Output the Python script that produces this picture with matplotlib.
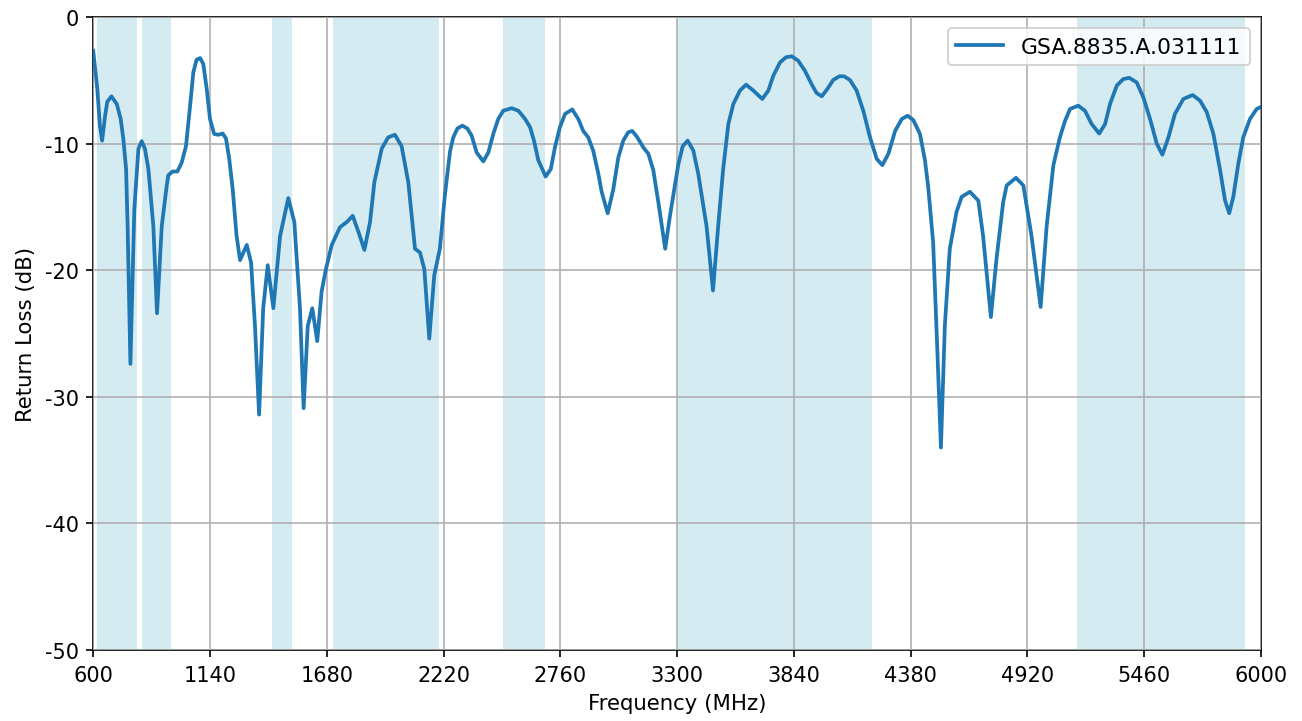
import matplotlib
matplotlib.use("Agg")
import matplotlib.pyplot as plt

plt.rcParams['axes.unicode_minus'] = False

freq = [600, 619, 631, 641, 655, 665, 684, 709, 727, 739, 752, 759, 772, 790, 809, 824, 839,
        855, 878, 895, 917, 940, 947, 967, 989, 1009, 1029, 1048, 1063, 1078, 1094, 1109,
        1125, 1140, 1159, 1178, 1199, 1214, 1229, 1245, 1263, 1279, 1310, 1330, 1348, 1367,
        1386, 1407, 1433, 1464, 1502, 1530, 1556, 1573, 1592, 1613, 1636, 1656, 1675, 1703,
        1741, 1772, 1800, 1829, 1854, 1880, 1900, 1934, 1964, 1995, 2026, 2057, 2088, 2111,
        2131, 2154, 2177, 2203, 2226, 2250, 2265, 2284, 2307, 2330, 2350, 2373, 2404, 2427,
        2450, 2473, 2496, 2535, 2566, 2597, 2620, 2638, 2658, 2692, 2716, 2735, 2758, 2782,
        2815, 2843, 2866, 2889, 2912, 2936, 2951, 2979, 3005, 3028, 3051, 3074, 3093, 3116,
        3144, 3167, 3190, 3213, 3245, 3267, 3306, 3326, 3349, 3375, 3398, 3436, 3466, 3490,
        3513, 3537, 3560, 3591, 3619, 3652, 3694, 3722, 3745, 3776, 3803, 3830, 3860, 3891,
        3922, 3945, 3969, 3995, 4022, 4050, 4072, 4099, 4130, 4161, 4192, 4223, 4249, 4277,
        4308, 4339, 4366, 4392, 4423, 4446, 4461, 4484, 4502, 4520, 4538, 4561, 4592, 4616,
        4654, 4693, 4715, 4751, 4777, 4808, 4824, 4867, 4901, 4939, 4981, 5009, 5040, 5070,
        5094, 5117, 5155, 5186, 5217, 5252, 5279, 5302, 5333, 5363, 5391, 5425, 5456, 5487,
        5518, 5544, 5572, 5602, 5641, 5684, 5718, 5749, 5780, 5811, 5834, 5853, 5872, 5895,
        5918, 5949, 5980, 6000]
return_loss = [-2.66, -5.7, -8.6, -9.76, -7.8, -6.7, -6.26, -6.87, -8.05, -9.6, -12.0, -16.5,
               -27.4, -15.2, -10.4, -9.8, -10.4, -12.0, -16.5, -23.4, -16.5, -13.3, -12.5,
               -12.2, -12.2, -11.5, -10.2, -7.0, -4.36, -3.37, -3.24, -3.7, -5.7, -8.05, -9.23,
               -9.3, -9.2, -9.6, -11.2, -13.6, -17.3, -19.2, -18.0, -19.4, -24.4, -31.4, -23.0,
               -19.6, -23.0, -17.3, -14.3, -16.2, -23.0, -30.9, -24.4, -23.0, -25.6, -21.7,
               -20.0, -18.0, -16.6, -16.2, -15.7, -17.1, -18.4, -16.2, -13.05, -10.4, -9.5,
               -9.3, -10.2, -13.05, -18.3, -18.6, -19.9, -25.4, -20.4, -18.3, -14.1, -10.6,
               -9.5, -8.8, -8.58, -8.8, -9.37, -10.7, -11.4, -10.7, -9.23, -8.05, -7.4, -7.2,
               -7.4, -8.05, -8.7, -9.76, -11.3, -12.6, -12.0, -10.3, -8.7, -7.65, -7.3, -8.05,
               -9.0, -9.5, -10.55, -12.4, -13.8, -15.5, -13.6, -11.1, -9.76, -9.1, -9.0, -9.5,
               -10.3, -10.8, -12.1, -14.6, -18.3, -15.7, -11.6, -10.2, -9.76, -10.55, -12.4,
               -16.5, -21.6, -16.5, -12.0, -8.45, -6.87, -5.8, -5.34, -5.8, -6.47, -5.8, -4.63,
               -3.58, -3.18, -3.1, -3.45, -4.24, -5.3, -6.0, -6.26, -5.68, -4.97, -4.68, -4.68,
               -4.97, -5.8, -7.4, -9.5, -11.2, -11.7, -10.8, -9.0, -8.05, -7.8, -8.13, -9.23,
               -11.3, -13.4, -17.8, -25.7, -34.0, -24.4, -18.3, -15.4, -14.2, -13.8, -14.5,
               -17.3, -23.7, -19.1, -14.6, -13.3, -12.7, -13.3, -17.3, -22.9, -16.5, -11.7,
               -9.5, -8.2, -7.26, -7.0, -7.4, -8.45, -9.2, -8.45, -6.87, -5.42, -4.9, -4.8,
               -5.16, -6.34, -8.05, -10.0, -10.87, -9.5, -7.65, -6.47, -6.16, -6.6, -7.5,
               -9.23, -12.1, -14.5, -15.5, -14.2, -11.6, -9.5, -8.05, -7.26, -7.1]

band_start = [617, 824, 1427, 1710, 2496, 3300, 5150]
band_end = [803, 960, 1518, 2200, 2690, 4200, 5925]

xticks = [600, 1140, 1680, 2220, 2760, 3300, 3840, 4380, 4920, 5460, 6000]
yticks = [0, -10, -20, -30, -40, -50]
series_label = "GSA.8835.A.031111"

fig = plt.figure(figsize=(8.68, 4.8133), dpi=150)
ax = fig.add_axes([0.0716, 0.0983, 0.9685 - 0.0716, 0.975 - 0.0983])

for s, e in zip(band_start, band_end):
    ax.axvspan(s, e, color='lightblue', alpha=0.5, lw=0, zorder=0)

ax.plot(freq, return_loss, color='#1f77b4', lw=1.8, label=series_label, zorder=3,
        solid_joinstyle='round')

ax.set_xlim(600, 6000)
ax.set_ylim(-50, 0)
ax.set_xticks(xticks)
ax.set_yticks(yticks)
ax.grid(True, color='#b0b0b0', lw=0.8, zorder=1)
ax.set_axisbelow(False)
ax.set_xlabel("Frequency (MHz)", fontsize=10.2)
ax.set_ylabel("Return Loss (dB)", fontsize=10.2)
ax.legend(loc='upper right', fontsize=10.5, handlelength=2.15)

fig.savefig("out.png", dpi=150)
